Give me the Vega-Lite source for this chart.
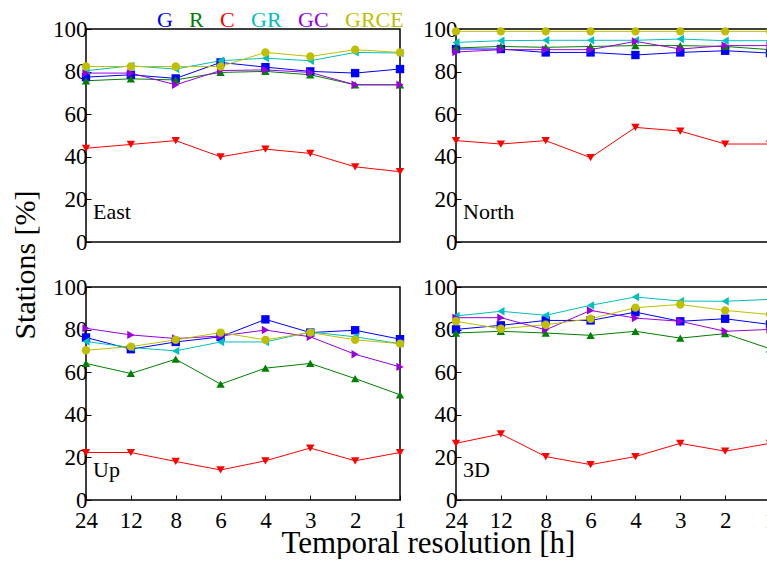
{
  "$schema": "https://vega.github.io/schema/vega-lite/v6.json",
  "padding": {"left": 11, "top": 9, "right": 0, "bottom": 0},
  "title": {"text": "Temporal resolution [h]", "orient": "bottom", "anchor": "middle", "offset": -3, "dx": 35,
    "font": "Liberation Serif", "fontSize": 31, "fontWeight": "normal", "color": "black"},
  "config": {
    "font": "Liberation Serif",
    "view": {"stroke": "black", "strokeWidth": 1.5},
    "axis": {
      "grid": false,
      "domain": false,
      "tickColor": "black",
      "tickSize": -5,
      "tickWidth": 1,
      "labelFont": "Liberation Serif",
      "labelFontSize": 23,
      "labelColor": "black",
      "labelPadding": 4
    }
  },
  "data": {"values": [
    {"p":"East","s":"G","res":"24","v":77.4},{"p":"East","s":"G","res":"12","v":78.5},{"p":"East","s":"G","res":"8","v":76.8},{"p":"East","s":"G","res":"6","v":84.3},{"p":"East","s":"G","res":"4","v":82.1},{"p":"East","s":"G","res":"3","v":80.1},{"p":"East","s":"G","res":"2","v":79.3},{"p":"East","s":"G","res":"1","v":81.2},
    {"p":"East","s":"R","res":"24","v":75.7},{"p":"East","s":"R","res":"12","v":76.6},{"p":"East","s":"R","res":"8","v":76.1},{"p":"East","s":"R","res":"6","v":79.6},{"p":"East","s":"R","res":"4","v":80.1},{"p":"East","s":"R","res":"3","v":78.5},{"p":"East","s":"R","res":"2","v":73.8},{"p":"East","s":"R","res":"1","v":73.8},
    {"p":"East","s":"C","res":"24","v":44.0},{"p":"East","s":"C","res":"12","v":45.8},{"p":"East","s":"C","res":"8","v":47.6},{"p":"East","s":"C","res":"6","v":40.0},{"p":"East","s":"C","res":"4","v":43.6},{"p":"East","s":"C","res":"3","v":41.6},{"p":"East","s":"C","res":"2","v":35.3},{"p":"East","s":"C","res":"1","v":33.0},
    {"p":"East","s":"GR","res":"24","v":80.4},{"p":"East","s":"GR","res":"12","v":82.7},{"p":"East","s":"GR","res":"8","v":81.2},{"p":"East","s":"GR","res":"6","v":85.1},{"p":"East","s":"GR","res":"4","v":86.3},{"p":"East","s":"GR","res":"3","v":85.1},{"p":"East","s":"GR","res":"2","v":89.0},{"p":"East","s":"GR","res":"1","v":88.7},
    {"p":"East","s":"GC","res":"24","v":79.3},{"p":"East","s":"GC","res":"12","v":79.3},{"p":"East","s":"GC","res":"8","v":73.8},{"p":"East","s":"GC","res":"6","v":80.5},{"p":"East","s":"GC","res":"4","v":80.8},{"p":"East","s":"GC","res":"3","v":79.6},{"p":"East","s":"GC","res":"2","v":73.8},{"p":"East","s":"GC","res":"1","v":73.8},
    {"p":"East","s":"GRCE","res":"24","v":82.4},{"p":"East","s":"GRCE","res":"12","v":82.4},{"p":"East","s":"GRCE","res":"8","v":82.4},{"p":"East","s":"GRCE","res":"6","v":82.4},{"p":"East","s":"GRCE","res":"4","v":89.0},{"p":"East","s":"GRCE","res":"3","v":87.1},{"p":"East","s":"GRCE","res":"2","v":90.3},{"p":"East","s":"GRCE","res":"1","v":89.0},
    {"p":"North","s":"G","res":"24","v":90.6},{"p":"North","s":"G","res":"12","v":90.6},{"p":"North","s":"G","res":"8","v":89.0},{"p":"North","s":"G","res":"6","v":89.0},{"p":"North","s":"G","res":"4","v":87.8},{"p":"North","s":"G","res":"3","v":89.0},{"p":"North","s":"G","res":"2","v":89.8},{"p":"North","s":"G","res":"1","v":88.7},
    {"p":"North","s":"R","res":"24","v":91.1},{"p":"North","s":"R","res":"12","v":91.8},{"p":"North","s":"R","res":"8","v":91.4},{"p":"North","s":"R","res":"6","v":91.8},{"p":"North","s":"R","res":"4","v":92.2},{"p":"North","s":"R","res":"3","v":92.2},{"p":"North","s":"R","res":"2","v":91.8},{"p":"North","s":"R","res":"1","v":90.3},
    {"p":"North","s":"C","res":"24","v":47.6},{"p":"North","s":"C","res":"12","v":46.0},{"p":"North","s":"C","res":"8","v":47.6},{"p":"North","s":"C","res":"6","v":39.6},{"p":"North","s":"C","res":"4","v":53.8},{"p":"North","s":"C","res":"3","v":52.1},{"p":"North","s":"C","res":"2","v":46.0},{"p":"North","s":"C","res":"1","v":46.0},
    {"p":"North","s":"GR","res":"24","v":93.7},{"p":"North","s":"GR","res":"12","v":94.5},{"p":"North","s":"GR","res":"8","v":94.7},{"p":"North","s":"GR","res":"6","v":94.7},{"p":"North","s":"GR","res":"4","v":94.7},{"p":"North","s":"GR","res":"3","v":95.3},{"p":"North","s":"GR","res":"2","v":94.5},{"p":"North","s":"GR","res":"1","v":94.5},
    {"p":"North","s":"GC","res":"24","v":89.2},{"p":"North","s":"GC","res":"12","v":90.3},{"p":"North","s":"GC","res":"8","v":90.3},{"p":"North","s":"GC","res":"6","v":90.3},{"p":"North","s":"GC","res":"4","v":94.2},{"p":"North","s":"GC","res":"3","v":90.6},{"p":"North","s":"GC","res":"2","v":92.2},{"p":"North","s":"GC","res":"1","v":92.2},
    {"p":"North","s":"GRCE","res":"24","v":98.9},{"p":"North","s":"GRCE","res":"12","v":98.9},{"p":"North","s":"GRCE","res":"8","v":98.9},{"p":"North","s":"GRCE","res":"6","v":98.9},{"p":"North","s":"GRCE","res":"4","v":98.9},{"p":"North","s":"GRCE","res":"3","v":98.9},{"p":"North","s":"GRCE","res":"2","v":98.9},{"p":"North","s":"GRCE","res":"1","v":98.9},
    {"p":"Up","s":"G","res":"24","v":76.3},{"p":"Up","s":"G","res":"12","v":70.8},{"p":"Up","s":"G","res":"8","v":74.2},{"p":"Up","s":"G","res":"6","v":76.6},{"p":"Up","s":"G","res":"4","v":84.8},{"p":"Up","s":"G","res":"3","v":78.6},{"p":"Up","s":"G","res":"2","v":79.7},{"p":"Up","s":"G","res":"1","v":75.5},
    {"p":"Up","s":"R","res":"24","v":64.1},{"p":"Up","s":"R","res":"12","v":59.4},{"p":"Up","s":"R","res":"8","v":66.1},{"p":"Up","s":"R","res":"6","v":54.4},{"p":"Up","s":"R","res":"4","v":61.9},{"p":"Up","s":"R","res":"3","v":64.1},{"p":"Up","s":"R","res":"2","v":57.0},{"p":"Up","s":"R","res":"1","v":49.4},
    {"p":"Up","s":"C","res":"24","v":22.3},{"p":"Up","s":"C","res":"12","v":22.3},{"p":"Up","s":"C","res":"8","v":18.1},{"p":"Up","s":"C","res":"6","v":14.1},{"p":"Up","s":"C","res":"4","v":18.4},{"p":"Up","s":"C","res":"3","v":24.4},{"p":"Up","s":"C","res":"2","v":18.4},{"p":"Up","s":"C","res":"1","v":22.3},
    {"p":"Up","s":"GR","res":"24","v":74.4},{"p":"Up","s":"GR","res":"12","v":71.6},{"p":"Up","s":"GR","res":"8","v":70.0},{"p":"Up","s":"GR","res":"6","v":74.2},{"p":"Up","s":"GR","res":"4","v":74.2},{"p":"Up","s":"GR","res":"3","v":78.9},{"p":"Up","s":"GR","res":"2","v":76.6},{"p":"Up","s":"GR","res":"1","v":73.4},
    {"p":"Up","s":"GC","res":"24","v":80.6},{"p":"Up","s":"GC","res":"12","v":77.5},{"p":"Up","s":"GC","res":"8","v":75.8},{"p":"Up","s":"GC","res":"6","v":77.0},{"p":"Up","s":"GC","res":"4","v":79.8},{"p":"Up","s":"GC","res":"3","v":76.6},{"p":"Up","s":"GC","res":"2","v":68.4},{"p":"Up","s":"GC","res":"1","v":62.5},
    {"p":"Up","s":"GRCE","res":"24","v":70.3},{"p":"Up","s":"GRCE","res":"12","v":72.0},{"p":"Up","s":"GRCE","res":"8","v":75.2},{"p":"Up","s":"GRCE","res":"6","v":78.6},{"p":"Up","s":"GRCE","res":"4","v":75.2},{"p":"Up","s":"GRCE","res":"3","v":78.6},{"p":"Up","s":"GRCE","res":"2","v":75.2},{"p":"Up","s":"GRCE","res":"1","v":73.4},
    {"p":"3D","s":"G","res":"24","v":80.1},{"p":"3D","s":"G","res":"12","v":82.0},{"p":"3D","s":"G","res":"8","v":84.3},{"p":"3D","s":"G","res":"6","v":84.3},{"p":"3D","s":"G","res":"4","v":88.2},{"p":"3D","s":"G","res":"3","v":83.9},{"p":"3D","s":"G","res":"2","v":85.1},{"p":"3D","s":"G","res":"1","v":82.4},
    {"p":"3D","s":"R","res":"24","v":78.4},{"p":"3D","s":"R","res":"12","v":79.2},{"p":"3D","s":"R","res":"8","v":78.4},{"p":"3D","s":"R","res":"6","v":77.3},{"p":"3D","s":"R","res":"4","v":79.2},{"p":"3D","s":"R","res":"3","v":76.0},{"p":"3D","s":"R","res":"2","v":78.1},{"p":"3D","s":"R","res":"1","v":71.0},
    {"p":"3D","s":"C","res":"24","v":26.6},{"p":"3D","s":"C","res":"12","v":31.0},{"p":"3D","s":"C","res":"8","v":20.4},{"p":"3D","s":"C","res":"6","v":16.6},{"p":"3D","s":"C","res":"4","v":20.4},{"p":"3D","s":"C","res":"3","v":26.6},{"p":"3D","s":"C","res":"2","v":22.9},{"p":"3D","s":"C","res":"1","v":26.6},
    {"p":"3D","s":"GR","res":"24","v":86.4},{"p":"3D","s":"GR","res":"12","v":88.6},{"p":"3D","s":"GR","res":"8","v":86.7},{"p":"3D","s":"GR","res":"6","v":91.4},{"p":"3D","s":"GR","res":"4","v":95.3},{"p":"3D","s":"GR","res":"3","v":93.4},{"p":"3D","s":"GR","res":"2","v":93.3},{"p":"3D","s":"GR","res":"1","v":94.2},
    {"p":"3D","s":"GC","res":"24","v":85.6},{"p":"3D","s":"GC","res":"12","v":85.6},{"p":"3D","s":"GC","res":"8","v":79.9},{"p":"3D","s":"GC","res":"6","v":89.0},{"p":"3D","s":"GC","res":"4","v":85.4},{"p":"3D","s":"GC","res":"3","v":83.9},{"p":"3D","s":"GC","res":"2","v":79.2},{"p":"3D","s":"GC","res":"1","v":80.1},
    {"p":"3D","s":"GRCE","res":"24","v":83.9},{"p":"3D","s":"GRCE","res":"12","v":80.4},{"p":"3D","s":"GRCE","res":"8","v":82.3},{"p":"3D","s":"GRCE","res":"6","v":85.1},{"p":"3D","s":"GRCE","res":"4","v":90.3},{"p":"3D","s":"GRCE","res":"3","v":91.8},{"p":"3D","s":"GRCE","res":"2","v":89.0},{"p":"3D","s":"GRCE","res":"1","v":87.1}
  ]},
  "transform": [
    {"calculate": "datum.p == 'East' || datum.p == 'North' ? 'top' : 'bottom'", "as": "r"},
    {"calculate": "datum.p == 'East' || datum.p == 'Up' ? 'left' : 'right'", "as": "c"}
  ],
  "facet": {
    "row": {"field": "r", "type": "nominal", "sort": ["top", "bottom"],
      "header": {"labels": false, "title": "Stations [%]", "titleFont": "Liberation Serif", "titleFontSize": 30, "titleFontWeight": "normal", "titleColor": "black", "titlePadding": 35}},
    "column": {"field": "c", "type": "nominal", "sort": ["left", "right"],
      "header": {"labels": false, "title": null}}
  },
  "spacing": {"row": 45, "column": 56},
  "bounds": "flush",
  "resolve": {"axis": {"y": "independent"}},
  "spec": {
    "width": 314,
    "height": 213,
    "encoding": {
      "x": {"field": "res", "type": "ordinal", "sort": ["24", "12", "8", "6", "4", "3", "2", "1"],
        "scale": {"type": "point", "padding": 0}, "axis": {"title": null, "labelAngle": 0, "labelPadding": 14}},
      "y": {"field": "v", "type": "quantitative", "scale": {"domain": [0, 100], "nice": false},
        "axis": {"title": null, "values": [0, 20, 40, 60, 80, 100]}}
    },
    "layer": [
      {
        "mark": {"type": "line", "strokeWidth": 1},
        "encoding": {
          "color": {"field": "s", "type": "nominal",
            "scale": {"domain": ["G", "R", "C", "GR", "GC", "GRCE"], "range": ["#0000ff", "#008000", "#ff0000", "#00bfbf", "#9900dd", "#bfbf00"]},
            "legend": {"orient": "none", "legendX": 49, "legendY": -20, "direction": "horizontal", "title": null, "gridAlign": "none",
              "symbolSize": 0, "symbolOpacity": 0, "symbolStrokeWidth": 0, "labelOffset": 0, "columnPadding": -6,
              "labelFont": "Liberation Serif", "labelFontSize": 22,
              "encode": {"labels": {"update": {"fill": {"scale": "color", "field": "value"}}}}}}
        }
      },
      {
        "mark": {"type": "point", "filled": true, "opacity": 1, "size": 70},
        "encoding": {
          "color": {"field": "s", "type": "nominal"},
          "shape": {"field": "s", "type": "nominal",
            "scale": {"domain": ["G", "R", "C", "GR", "GC", "GRCE"], "range": ["square", "triangle-up", "triangle-down", "triangle-left", "triangle-right", "circle"]},
            "legend": null}
        }
      },
      {
        "transform": [{"filter": "datum.s == 'G' && datum.res == '24'"}],
        "mark": {"type": "text", "align": "left", "baseline": "middle", "dx": 7, "fontSize": 22, "font": "Liberation Serif", "color": "black"},
        "encoding": {
          "y": {"datum": 14},
          "text": {"field": "p"}
        }
      }
    ]
  }
}
